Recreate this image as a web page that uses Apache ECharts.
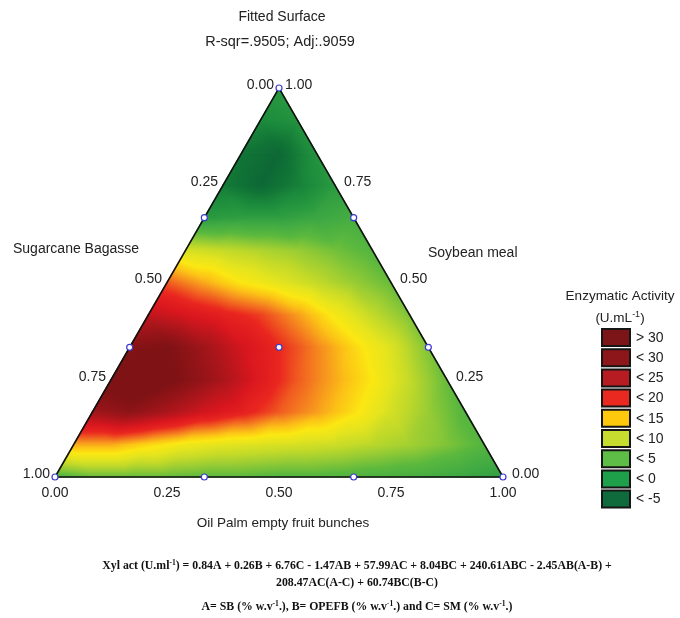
<!DOCTYPE html>
<html>
<head>
<meta charset="utf-8">
<script src="https://cdn.jsdelivr.net/npm/echarts@6/dist/echarts.min.js"></script>
<style>
  html, body { margin: 0; padding: 0; background: #ffffff; }
  #chart { width: 680px; height: 618px; }
</style>
</head>
<body>
<div id="chart"></div>
<script>
// Mixture components: A = Sugarcane Bagasse, B = Oil Palm EFB, C = Soybean meal
const GRID_STEPS = 12;

// Enzymatic activity (U.mL-1) on a simplex lattice.
// Row r holds C = r/12; entry i holds B = i/12 (A = 1 - B - C).
const activityGrid = [
  [2.5, 4, 4, 4, 3.5, 3.5, 3, 3, 2.5, 2, 1.5, 0.5, -0.5], // C = 0
  [15, 15, 13, 11, 10, 9.5, 9, 8.5, 7.5, 6.5, 5, 3],      // C = 1/12
  [28, 30, 27, 23.5, 21, 18, 15.5, 12.5, 9, 6, 3],        // C = 2/12
  [34, 34.5, 31, 27, 22, 18, 15, 12, 8, 4],               // C = 3/12
  [31, 32, 28, 23.5, 20, 16.5, 13, 9.5, 5],               // C = 4/12
  [25, 23, 21, 19, 15.5, 11.5, 8, 5],                     // C = 5/12
  [18, 15, 12, 10, 8, 6, 4],                              // C = 6/12
  [9, 8, 7, 6, 4.5, 3],                                   // C = 7/12
  [-1, -0.5, -0.5, 0.5, 1.5],                             // C = 8/12
  [-4.5, -6.5, -4, -1],                                   // C = 9/12
  [-5, -6.5, -2],                                         // C = 10/12
  [-3, -2],                                               // C = 11/12
  [-1]                                                    // C = 1
];

// Experimental design points (A, B, C)
const designA = [1, 0, 0, 2/3, 1/3, 2/3, 1/3, 0, 0, 1/3];
const designB = [0, 1, 0, 1/3, 2/3, 0, 0, 2/3, 1/3, 1/3];
const designC = [0, 0, 1, 0, 0, 1/3, 2/3, 1/3, 2/3, 1/3];

const tickValues = [0, 0.25, 0.5, 0.75, 1];

const legendLabels = ['> 30', '< 30', '< 25', '< 20', '< 15', '< 10', '< 5', '< 0', '< -5'];
const legendColors = ['#7b1517', '#8c1619', '#b71c22', '#ea2a20', '#fec80c', '#c6dc2e', '#5dbd46', '#1e9f4a', '#0f6b3c'];

// Continuous colour ramp used for the fitted surface
const RAMP = [
  [-7, '#0b6434'], [-5, '#117536'], [-3, '#1c8a3c'], [-1, '#2a9a40'],
  [1, '#40aa43'], [3.5, '#5ab83e'], [6, '#98cc34'], [8, '#c4da28'],
  [10, '#e4e41e'], [12, '#fbe712'], [14, '#fcc216'], [16, '#f6901e'],
  [18, '#f05a20'], [20, '#e9261f'], [23, '#d8161e'], [26, '#b4161c'],
  [29, '#961418'], [32, '#7e1214']
];

function hexRgb(h) {
  return [parseInt(h.slice(1, 3), 16), parseInt(h.slice(3, 5), 16), parseInt(h.slice(5, 7), 16)];
}
const RAMP_RGB = RAMP.map(s => [s[0], hexRgb(s[1])]);

function rampColor(v) {
  if (v <= RAMP_RGB[0][0]) return 'rgb(' + RAMP_RGB[0][1].join(',') + ')';
  const last = RAMP_RGB[RAMP_RGB.length - 1];
  if (v >= last[0]) return 'rgb(' + last[1].join(',') + ')';
  for (let k = 0; k < RAMP_RGB.length - 1; k++) {
    const a = RAMP_RGB[k], b = RAMP_RGB[k + 1];
    if (v >= a[0] && v <= b[0]) {
      const t = (v - a[0]) / (b[0] - a[0]);
      const c = a[1].map((x, j) => Math.round(x + (b[1][j] - x) * t));
      return 'rgb(' + c.join(',') + ')';
    }
  }
}

const SQ3 = Math.sqrt(3) / 2;
// ternary (B, C) -> plane coordinates of the triangle
function toPlane(b, c) { return [b + c / 2, c * SQ3]; }

// Lattice triangles
const cells = [];
for (let r = 0; r < GRID_STEPS; r++) {
  for (let i = 0; i < GRID_STEPS - r; i++) {
    cells.push([[r, i], [r, i + 1], [r + 1, i]]);
    if (i < GRID_STEPS - r - 1) cells.push([[r, i + 1], [r + 1, i + 1], [r + 1, i]]);
  }
}

// Linear shading across one lattice triangle
function shade(p, v) {
  const e1 = [p[1][0] - p[0][0], p[1][1] - p[0][1]];
  const e2 = [p[2][0] - p[0][0], p[2][1] - p[0][1]];
  const d1 = v[1] - v[0], d2 = v[2] - v[0];
  const det = e1[0] * e2[1] - e1[1] * e2[0];
  const gx = (d1 * e2[1] - d2 * e1[1]) / det;
  const gy = (d2 * e1[0] - d1 * e2[0]) / det;
  const g2 = gx * gx + gy * gy;
  const vmin = Math.min(v[0], v[1], v[2]);
  const vmax = Math.max(v[0], v[1], v[2]);
  if (g2 < 1e-12 || vmax - vmin < 1e-9) return rampColor(v[0]);
  const k = v.indexOf(vmin);
  const span = vmax - vmin;
  const x1 = p[k][0], y1 = p[k][1];
  const x2 = x1 + gx * span / g2, y2 = y1 + gy * span / g2;
  const stops = [{ offset: 0, color: rampColor(vmin) }];
  RAMP.forEach(s => {
    if (s[0] > vmin && s[0] < vmax) stops.push({ offset: (s[0] - vmin) / span, color: rampColor(s[0]) });
  });
  stops.push({ offset: 1, color: rampColor(vmax) });
  return new echarts.graphic.LinearGradient(x1, y1, x2, y2, stops, true);
}

const LABEL_FONT = '14px "Liberation Sans", Arial, sans-serif';
const EQ_FONT = 'bold 11.8px "Liberation Serif", "Times New Roman", serif';
const EQ_SUP = 'bold 7.6px "Liberation Serif", "Times New Roman", serif';

// Axis tick labels: left edge = A, bottom edge = B, right edge = C
const tickItems = [];
tickValues.forEach(t => {
  tickItems.push({ side: 'A', t: t });
  tickItems.push({ side: 'B', t: t });
  tickItems.push({ side: 'C', t: t });
});

const chart = echarts.init(document.getElementById('chart'), null, { renderer: 'canvas' });

const option = {
  animation: false,
  backgroundColor: '#ffffff',
  grid: { left: 55, top: 88, width: 448, height: 389 },
  xAxis: { type: 'value', min: 0, max: 1, show: false },
  yAxis: { type: 'value', min: 0, max: SQ3, show: false },
  series: [
    {
      type: 'custom',
      name: 'surface',
      z: 1,
      silent: true,
      data: cells.map(c => {
        const b = (c[0][1] + c[1][1] + c[2][1]) / 3 / GRID_STEPS;
        const cc = (c[0][0] + c[1][0] + c[2][0]) / 3 / GRID_STEPS;
        return toPlane(b, cc);
      }),
      renderItem: function (params, api) {
        const cell = cells[params.dataIndex];
        const pts = cell.map(([r, i]) => api.coord(toPlane(i / GRID_STEPS, r / GRID_STEPS)));
        const vals = cell.map(([r, i]) => activityGrid[r][i]);
        const fill = shade(pts, vals);
        return {
          type: 'polygon',
          shape: { points: pts },
          style: { fill: fill, stroke: fill, lineWidth: 1.4, lineJoin: 'round' }
        };
      }
    },
    {
      type: 'custom',
      name: 'frame',
      z: 3,
      silent: true,
      data: [[0.5, 0.4]],
      renderItem: function (params, api) {
        const pts = [toPlane(0, 0), toPlane(1, 0), toPlane(0, 1)].map(q => api.coord(q));
        return {
          type: 'polygon',
          shape: { points: pts },
          style: { fill: 'none', stroke: '#111111', lineWidth: 1.6, lineJoin: 'miter' }
        };
      }
    },
    {
      type: 'scatter',
      name: 'design',
      z: 5,
      silent: true,
      symbol: 'circle',
      symbolSize: 6,
      itemStyle: { color: '#ffffff', borderColor: '#3b3bd0', borderWidth: 1.2, opacity: 1 },
      data: designA.map((a, k) => toPlane(designB[k], designC[k]))
    },
    {
      type: 'custom',
      name: 'ticks',
      z: 6,
      silent: true,
      data: tickItems.map(() => [0, 0]),
      renderItem: function (params, api) {
        const it = tickItems[params.dataIndex];
        let pos, align, dx = 0, dy = 0;
        if (it.side === 'A') {
          // A = t on the left edge (B = 0)
          pos = api.coord(toPlane(0, 1 - it.t));
          align = 'right'; dx = -5; dy = -3;
        } else if (it.side === 'C') {
          // C = t on the right edge (A = 0)
          pos = api.coord(toPlane(1 - it.t, it.t));
          align = 'left'; dx = it.t === 1 ? 6 : 9; dy = -3;
        } else {
          // B = t on the bottom edge (C = 0)
          pos = api.coord(toPlane(it.t, 0));
          align = 'center'; dy = 16;
        }
        return {
          type: 'text',
          x: pos[0] + dx,
          y: pos[1] + dy,
          style: {
            text: it.t.toFixed(2),
            font: LABEL_FONT,
            fill: '#222222',
            align: align,
            verticalAlign: 'middle'
          }
        };
      }
    }
  ],
  graphic: [
    { type: 'text', x: 282, y: 17, style: { text: 'Fitted Surface', font: LABEL_FONT, fill: '#222', align: 'center', verticalAlign: 'middle' } },
    { type: 'text', x: 280, y: 42, style: { text: 'R-sqr=.9505; Adj:.9059', font: '14.5px "Liberation Sans", Arial, sans-serif', fill: '#222', align: 'center', verticalAlign: 'middle' } },
    { type: 'text', x: 13, y: 249, style: { text: 'Sugarcane Bagasse', font: LABEL_FONT, fill: '#222', align: 'left', verticalAlign: 'middle' } },
    { type: 'text', x: 428, y: 253, style: { text: 'Soybean meal', font: LABEL_FONT, fill: '#222', align: 'left', verticalAlign: 'middle' } },
    { type: 'text', x: 283, y: 523, style: { text: 'Oil Palm empty fruit bunches', font: '13.5px "Liberation Sans", Arial, sans-serif', fill: '#222', align: 'center', verticalAlign: 'middle' } },
    { type: 'text', x: 620, y: 296, style: { text: 'Enzymatic Activity', font: '13.5px "Liberation Sans", Arial, sans-serif', fill: '#222', align: 'center', verticalAlign: 'middle' } },
    {
      type: 'text', x: 620, y: 318,
      style: {
        text: '{n|(U.mL}{s|-1}{n|)}',
        align: 'center', verticalAlign: 'middle',
        rich: {
          n: { font: '13.5px "Liberation Sans", Arial, sans-serif', fill: '#222', lineHeight: 16 },
          s: { font: '9px "Liberation Sans", Arial, sans-serif', fill: '#222', lineHeight: 9, verticalAlign: 'top' }
        }
      }
    },
    {
      type: 'group',
      children: legendLabels.map((lab, k) => ({
        type: 'group',
        children: [
          { type: 'rect', shape: { x: 602, y: 329 + k * 20.2, width: 28, height: 17 }, style: { fill: legendColors[k], stroke: '#151515', lineWidth: 2 } },
          { type: 'text', x: 636, y: 329 + k * 20.2 + 9, style: { text: lab, font: LABEL_FONT, fill: '#222', align: 'left', verticalAlign: 'middle' } }
        ]
      }))
    },
    {
      type: 'text', x: 357, y: 566,
      style: {
        text: '{b|Xyl act (U.ml}{s|-1}{b|) = 0.84A + 0.26B + 6.76C - 1.47AB + 57.99AC + 8.04BC + 240.61ABC - 2.45AB(A-B) +}',
        align: 'center', verticalAlign: 'middle',
        rich: {
          b: { font: EQ_FONT, fill: '#111', lineHeight: 14 },
          s: { font: EQ_SUP, fill: '#111', lineHeight: 8, verticalAlign: 'top' }
        }
      }
    },
    { type: 'text', x: 357, y: 583, style: { text: '208.47AC(A-C) + 60.74BC(B-C)', font: EQ_FONT, fill: '#111', align: 'center', verticalAlign: 'middle' } },
    {
      type: 'text', x: 357, y: 607,
      style: {
        text: '{b|A= SB (% w.v}{s|-1}{b|.), B= OPEFB (% w.v}{s|-1}{b|.) and C= SM (% w.v}{s|-1}{b|.)}',
        align: 'center', verticalAlign: 'middle',
        rich: {
          b: { font: EQ_FONT, fill: '#111', lineHeight: 14 },
          s: { font: EQ_SUP, fill: '#111', lineHeight: 8, verticalAlign: 'top' }
        }
      }
    }
  ]
};

chart.setOption(option);
</script>
</body>
</html>
